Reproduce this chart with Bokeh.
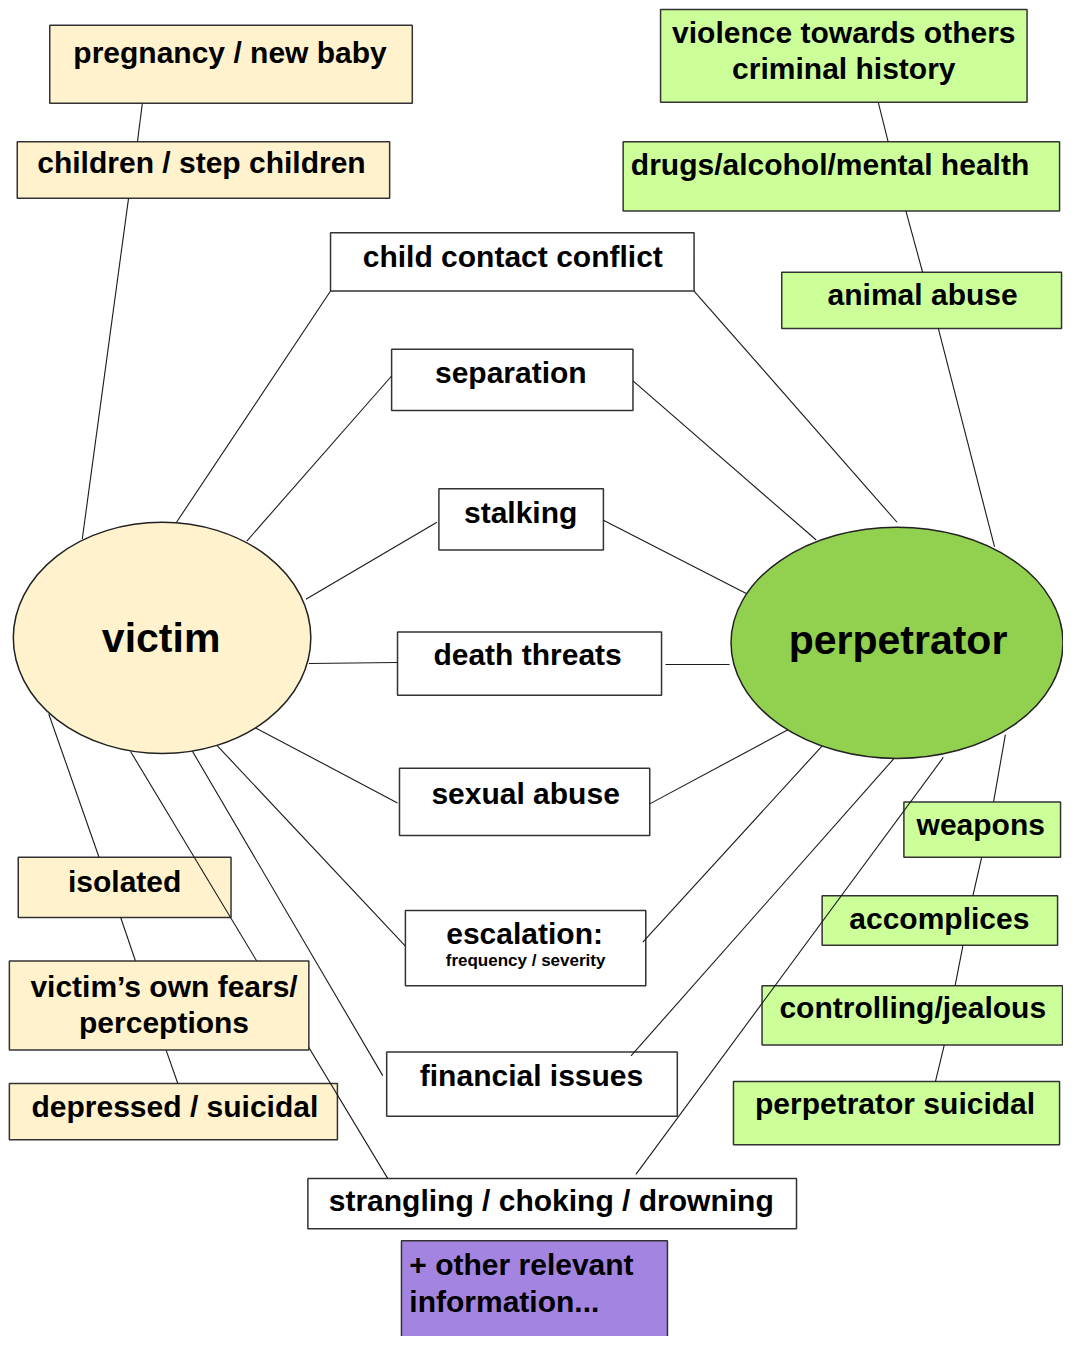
from bokeh.plotting import figure
from bokeh.models import Range1d, ColumnDataSource
from bokeh.core.properties import value
from bokeh.embed import file_html
from bokeh.resources import INLINE

# ---------------- data (labels) ----------------
hub_labels = ["victim", "perpetrator"]
victim_factors = ["pregnancy / new baby", "children / step children", "isolated",
                  "victim\u2019s own fears/|perceptions", "depressed / suicidal"]
perp_factors = ["violence towards others|criminal history", "drugs/alcohol/mental health",
                "animal abuse", "weapons", "accomplices", "controlling/jealous",
                "perpetrator suicidal"]
shared_factors = ["child contact conflict", "separation", "stalking", "death threats",
                  "sexual abuse", "escalation:", "financial issues",
                  "strangling / choking / drowning"]
escalation_note = "frequency / severity"
extra_note = "+ other relevant|information..."

# ---------------- layout (pixel positions in the 1079x1352 sheet) ----------------
# box: left, top, right, bottom
box_geo = {
    "pregnancy / new baby": (50, 25, 418, 104),
    "children / step children": (17, 143, 395, 200),
    "isolated": (18, 867, 234, 928),
    "victim\u2019s own fears/|perceptions": (9, 972, 313, 1062),
    "depressed / suicidal": (9, 1096, 342, 1153),
    "violence towards others|criminal history": (670, 9, 1042, 103),
    "drugs/alcohol/mental health": (632, 143, 1075, 213),
    "animal abuse": (793, 275, 1077, 332),
    "weapons": (917, 811, 1076, 867),
    "accomplices": (834, 906, 1073, 956),
    "controlling/jealous": (773, 997, 1078, 1057),
    "perpetrator suicidal": (744, 1094, 1075, 1158),
    "child contact conflict": (335, 235, 704, 294),
    "separation": (397, 353, 642, 415),
    "stalking": (445, 494, 612, 556),
    "death threats": (403, 639, 671, 703),
    "sexual abuse": (405, 777, 659, 845),
    "escalation:": (411, 921, 655, 997),
    "financial issues": (392, 1064, 687, 1129),
    "strangling / choking / drowning": (312, 1192, 808, 1243),
    "+ other relevant|information...": (407, 1255, 677, 1362),
}
# text: center x (or left x), baseline y of first line, line gap
text_geo = {
    "pregnancy / new baby": (233, 63, 0),
    "children / step children": (204, 175, 0),
    "isolated": (126, 902, 0),
    "victim\u2019s own fears/|perceptions": (166, 1009, 36),
    "depressed / suicidal": (177, 1130, 0),
    "violence towards others|criminal history": (856, 43, 37),
    "drugs/alcohol/mental health": (842, 177, 0),
    "animal abuse": (936, 308, 0),
    "weapons": (995, 845, 0),
    "accomplices": (953, 940, 0),
    "controlling/jealous": (926, 1030, 0),
    "perpetrator suicidal": (908, 1127, 0),
    "child contact conflict": (520, 270, 0),
    "separation": (518, 387, 0),
    "stalking": (528, 529, 0),
    "death threats": (535, 673, 0),
    "sexual abuse": (533, 813, 0),
    "escalation:": (532, 955, 0),
    "financial issues": (539, 1099, 0),
    "strangling / choking / drowning": (559, 1225, 0),
    "+ other relevant|information...": (415, 1290, 37),
}
hub_geo = {"victim": (164, 645, 302, 234, 163, 660),
           "perpetrator": (910, 650, 337, 234, 911, 662)}

# connector segments x0, y0, x1, y1
links = [
    (144, 104, 139, 143), (130, 200, 83, 545),
    (891, 103, 901, 143), (919, 213, 936, 275), (952, 332, 1009, 553),
    (335, 294, 178, 529), (704, 294, 910, 528),
    (397, 380, 250, 547), (642, 385, 828, 546),
    (443, 528, 310, 606), (612, 526, 757, 600),
    (313, 671, 403, 670), (675, 672, 740, 672),
    (253, 733, 403, 812), (659, 813, 803, 736),
    (218, 752, 411, 957), (652, 953, 838, 750),
    (192, 755, 388, 1088), (640, 1068, 907, 767),
    (132, 760, 393, 1192), (645, 1188, 957, 766),
    (49, 722, 100, 867), (122, 928, 137, 972), (168, 1062, 180, 1096),
    (1020, 743, 1008, 811), (996, 867, 987, 906), (977, 956, 969, 997),
    (958, 1057, 949, 1094),
]

YELLOW = "#FFF2CC"
GREEN = "#CCFF99"
WHITE = "#FFFFFF"
PURPLE = "#A384E0"
HUB_COLORS = ["#FFF2CC", "#92D050"]
EDGE = "#333333"
FONT = value("Liberation Sans")
BASE_SHIFT = 0.36  # renderer places the glyph centre at y; shift to hit the baseline

# ---------------- figure ----------------
p = figure(width=1063, height=1336, output_backend="svg", toolbar_location=None,
           x_range=Range1d(0, 1079), y_range=Range1d(1352, 0),
           x_axis_type=None, y_axis_type=None, min_border=0)
p.grid.visible = False
p.outline_line_color = None
p.background_fill_color = "white"


def fill_for(label):
    if label in victim_factors:
        return YELLOW
    if label in perp_factors:
        return GREEN
    if label == extra_note:
        return PURPLE
    return WHITE


def box_source(labels):
    return ColumnDataSource(dict(
        left=[box_geo[l][0] for l in labels], top=[box_geo[l][1] for l in labels],
        right=[box_geo[l][2] for l in labels], bottom=[box_geo[l][3] for l in labels],
        color=[fill_for(l) for l in labels]))


fears = victim_factors[3]
under = [l for l in victim_factors + perp_factors + shared_factors + [extra_note] if l != fears]
p.quad(left="left", right="right", top="top", bottom="bottom", fill_color="color",
       line_color=EDGE, line_width=1.5, source=box_source(under))

p.segment(x0=[s[0] for s in links], y0=[s[1] for s in links],
          x1=[s[2] for s in links], y1=[s[3] for s in links],
          line_color="#1a1a1a", line_width=1.1)

p.quad(left="left", right="right", top="top", bottom="bottom", fill_color="color",
       line_color=EDGE, line_width=1.5, source=box_source([fears]))

p.ellipse(x=[hub_geo[h][0] for h in hub_labels], y=[hub_geo[h][1] for h in hub_labels],
          width=[hub_geo[h][2] for h in hub_labels], height=[hub_geo[h][3] for h in hub_labels],
          fill_color=HUB_COLORS, line_color="#222222", line_width=1.5)

p.text(x=[hub_geo[h][4] for h in hub_labels],
       y=[hub_geo[h][5] - BASE_SHIFT * 41 for h in hub_labels],
       text=hub_labels, text_font=FONT, text_font_style="bold", text_font_size="41px",
       text_align="center", text_baseline="alphabetic", text_color="black")

tx, ty, tt, ta = [], [], [], []
for label in victim_factors + perp_factors + shared_factors + [extra_note]:
    x, y, gap = text_geo[label]
    for i, line in enumerate(label.split("|")):
        tx.append(x)
        ty.append(y + i * gap - BASE_SHIFT * 30)
        tt.append(line)
        ta.append("left" if label == extra_note else "center")
p.text(x=tx, y=ty, text=tt, text_align=ta, text_font=FONT, text_font_style="bold",
       text_font_size="30px", text_baseline="alphabetic", text_color="black")

p.text(x=[533], y=[978 - BASE_SHIFT * 17], text=[escalation_note], text_align="center",
       text_font=FONT, text_font_style="bold", text_font_size="17px",
       text_baseline="alphabetic", text_color="black")

open("out.html", "w").write(file_html(p, INLINE))
